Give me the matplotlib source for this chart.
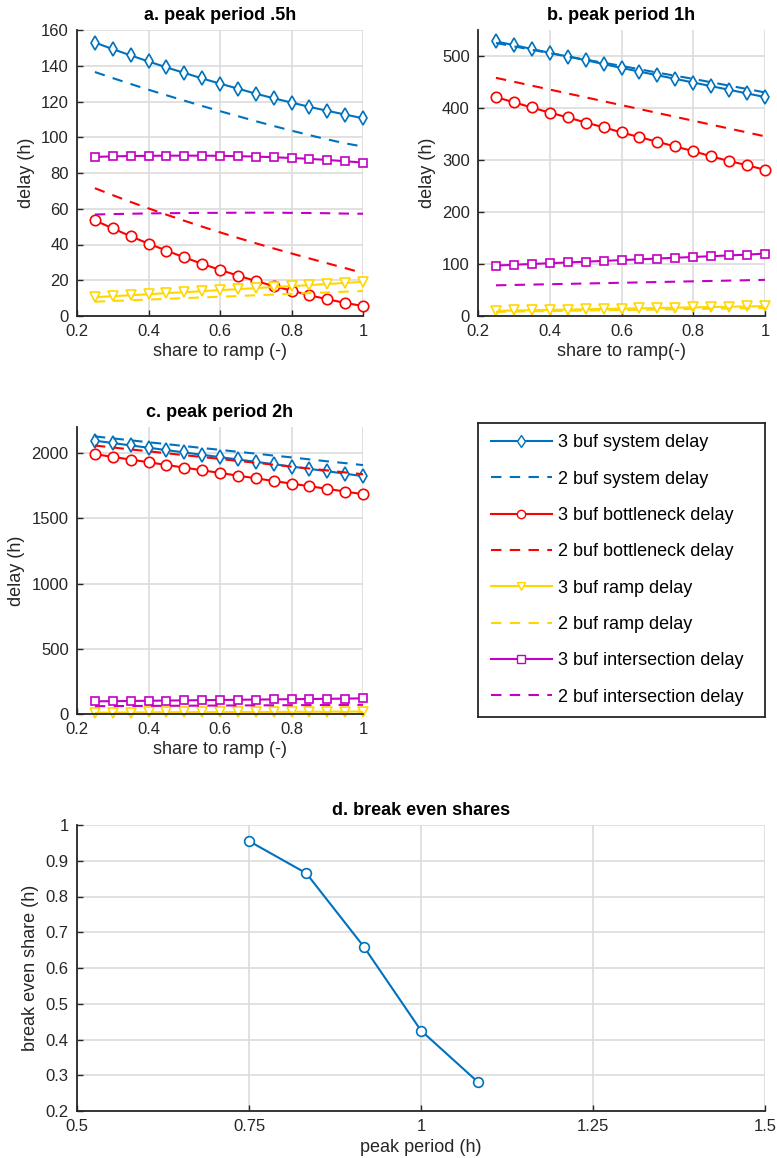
import numpy as np
import matplotlib
matplotlib.use("Agg")
import matplotlib.pyplot as plt
from matplotlib.lines import Line2D

plt.rcParams['font.family'] = ['Liberation Sans', 'DejaVu Sans']

# share of traffic sent to the ramp
share = [0.25, 0.30, 0.35, 0.40, 0.45, 0.50, 0.55, 0.60,
         0.65, 0.70, 0.75, 0.80, 0.85, 0.90, 0.95, 1.00]

# peak period 0.5 h
a_sys3 = [153, 149.3, 145.8, 142.4, 139.1, 136.0, 132.9, 130.0, 127.2, 124.4, 121.8, 119.4, 117.0, 114.8, 112.7, 110.6]
a_sys2 = [136.5, 133.1, 129.8, 126.6, 123.5, 120.5, 117.5, 114.6, 111.8, 109.0, 106.3, 103.7, 101.2, 98.8, 96.6, 94.8]
a_bot3 = [53.5, 49.0, 44.6, 40.5, 36.6, 32.8, 29.2, 25.8, 22.6, 19.6, 16.8, 14.2, 11.6, 9.4, 7.3, 5.6]
a_bot2 = [71.5, 67.6, 63.8, 60.2, 56.7, 53.3, 50.0, 46.8, 43.7, 40.7, 37.8, 35.0, 32.2, 29.5, 26.8, 24.0]
a_ramp3 = [10.5, 11.1, 11.6, 12.2, 12.8, 13.3, 13.9, 14.5, 15.0, 15.6, 16.2, 16.7, 17.3, 17.9, 18.5, 19.1]
a_ramp2 = [8.0, 8.4, 8.8, 9.2, 9.6, 10.0, 10.4, 10.8, 11.2, 11.6, 12.0, 12.4, 12.8, 13.2, 13.6, 14.0]
a_int3 = [89.0, 89.3, 89.5, 89.6, 89.7, 89.7, 89.7, 89.6, 89.4, 89.2, 88.8, 88.4, 87.9, 87.3, 86.6, 85.8]
a_int2 = [56.8, 57.0, 57.2, 57.4, 57.5, 57.6, 57.7, 57.7, 57.8, 57.8, 57.8, 57.7, 57.6, 57.5, 57.3, 57.2]

# peak period 1 h
b_sys3 = [528, 521, 513.5, 506, 499, 492, 484.5, 477, 470, 463, 456, 449, 442, 435, 428, 421]
b_sys2 = [525, 518.5, 512, 505.5, 499, 493, 487, 481, 474.5, 468, 462, 456, 449.5, 443, 436.5, 430]
b_bot3 = [421, 411, 401, 391, 382, 372, 363, 353, 344, 335, 326, 317, 307, 298, 290, 281]
b_bot2 = [458, 450.5, 443, 435.5, 428, 420.5, 413, 405.5, 398, 390.5, 383, 375.5, 368, 360.5, 353, 345.5]
b_ramp3 = [10, 10.6, 11.2, 11.8, 12.4, 13.0, 13.6, 14.2, 14.8, 15.4, 16.0, 16.6, 17.2, 17.8, 18.4, 19.0]
b_ramp2 = [8, 8.5, 9.0, 9.5, 10.0, 10.5, 11.0, 11.5, 12.0, 12.5, 13.0, 13.5, 14.0, 14.5, 15.0, 15.5]
b_int3 = [97, 98.5, 100, 101.5, 103, 104.5, 106, 107.5, 109, 110.5, 112, 113.5, 115, 116.5, 118, 120]
b_int2 = [59, 59.7, 60.4, 61.1, 61.8, 62.5, 63.2, 63.9, 64.6, 65.3, 66.0, 66.7, 67.4, 68.1, 68.8, 69.5]

# peak period 2 h
c_sys3 = [2095, 2077, 2059, 2041, 2023, 2005, 1987, 1969, 1951, 1933, 1915, 1897, 1879, 1861, 1842, 1823]
c_sys2 = [2128, 2113, 2098, 2083, 2069, 2054, 2039, 2025, 2010, 1996, 1981, 1967, 1952, 1937, 1923, 1908]
c_bot2 = [2058, 2043, 2028, 2014, 1999, 1984, 1970, 1955, 1940, 1926, 1911, 1896, 1882, 1867, 1852, 1838]
c_bot3 = [1992, 1971, 1950, 1930, 1909, 1889, 1868, 1848, 1827, 1807, 1786, 1766, 1746, 1726, 1705, 1685]
c_ramp3 = [10, 10.6, 11.2, 11.8, 12.4, 13.0, 13.6, 14.2, 14.8, 15.4, 16.0, 16.6, 17.2, 17.8, 18.4, 19.0]
c_ramp2 = [8, 8.5, 9.0, 9.5, 10.0, 10.5, 11.0, 11.5, 12.0, 12.5, 13.0, 13.5, 14.0, 14.5, 15.0, 15.5]
c_int3 = [97, 98.5, 100, 101.5, 103, 104.5, 106, 107.5, 109, 110.5, 112, 113.5, 115, 116.5, 118, 120]
c_int2 = [60, 60.7, 61.4, 62.1, 62.8, 63.5, 64.2, 64.9, 65.6, 66.3, 67.0, 67.7, 68.4, 69.1, 69.8, 70.5]

# break even shares
peak_period = [0.75, 0.8333, 0.9167, 1.0, 1.0833]
break_even = [0.955, 0.865, 0.66, 0.425, 0.28]

labels = ['3 buf system delay', '2 buf system delay',
          '3 buf bottleneck delay', '2 buf bottleneck delay',
          '3 buf ramp delay', '2 buf ramp delay',
          '3 buf intersection delay', '2 buf intersection delay']

BLUE = '#0072BD'
RED = '#FF0000'
YEL = '#FFD700'
MAG = '#C400C4'
INK = '#262626'
styles = [
    dict(color=BLUE, ls='-', marker='d'),
    dict(color=BLUE, ls='--', marker=None),
    dict(color=RED, ls='-', marker='o'),
    dict(color=RED, ls='--', marker=None),
    dict(color=YEL, ls='-', marker='v'),
    dict(color=YEL, ls='--', marker=None),
    dict(color=MAG, ls='-', marker='s'),
    dict(color=MAG, ls='--', marker=None),
]

W, H = 777, 1158
fig = plt.figure(figsize=(W / 100, H / 100), dpi=100)


def px_axes(l, t, r, b):
    return fig.add_axes([l / W, 1 - b / H, (r - l) / W, (b - t) / H])


def style_axes(ax):
    for s in ['top', 'right']:
        ax.spines[s].set_visible(False)
    for s in ['left', 'bottom']:
        ax.spines[s].set_linewidth(1.3)
        ax.spines[s].set_color(INK)
    ax.tick_params(direction='in', length=4, labelsize=12, colors=INK,
                   width=1, pad=6)
    ax.grid(True, color='#dcdcdc', lw=1.2)
    ax.set_axisbelow(True)


def delay_panel(ax, series, title, ylim, yticks, xlabel):
    for y, st in zip(series, styles):
        mk = st['marker']
        ax.plot(share, y, color=st['color'], ls=st['ls'], lw=1.5,
                dashes=(5, 4) if st['ls'] == '--' else (None, None),
                marker=mk, markersize=7.5 if mk != 's' else 6,
                markerfacecolor='white', markeredgecolor=st['color'],
                markeredgewidth=1.2, clip_on=False)
    ax.set_xlim(0.2, 1.0)
    ax.set_ylim(*ylim)
    ax.set_xticks([0.2, 0.4, 0.6, 0.8, 1.0])
    ax.set_xticklabels(['0.2', '0.4', '0.6', '0.8', '1'])
    ax.set_yticks(yticks)
    ax.set_title(title, fontsize=13, fontweight='bold', pad=7)
    ax.set_ylabel('delay (h)', fontsize=13, color=INK, labelpad=4.5)
    ax.set_xlabel(xlabel, fontsize=13, color=INK, labelpad=3)
    style_axes(ax)


ax_a = px_axes(77, 30, 363, 316)
delay_panel(ax_a, [a_sys3, a_sys2, a_bot3, a_bot2, a_ramp3, a_ramp2, a_int3, a_int2],
            'a. peak period .5h', (0, 160), range(0, 161, 20), 'share to ramp (-)')

ax_b = px_axes(478, 30, 765, 316)
delay_panel(ax_b, [b_sys3, b_sys2, b_bot3, b_bot2, b_ramp3, b_ramp2, b_int3, b_int2],
            'b. peak period 1h', (0, 550), range(0, 501, 100), 'share to ramp(-)')

ax_c = px_axes(77, 427, 363, 714)
delay_panel(ax_c, [c_sys3, c_sys2, c_bot3, c_bot2, c_ramp3, c_ramp2, c_int3, c_int2],
            'c. peak period 2h', (0, 2200), range(0, 2001, 500), 'share to ramp (-)')

# legend in its own box
ax_leg = px_axes(478, 423, 765, 717)
ax_leg.set_xticks([])
ax_leg.set_yticks([])
for s in ax_leg.spines.values():
    s.set_linewidth(1.3)
    s.set_color(INK)
handles = []
for st in styles:
    handles.append(Line2D([], [], color=st['color'], ls=st['ls'], lw=1.5,
                          dashes=(5, 4) if st['ls'] == '--' else (None, None),
                          marker=st['marker'], markersize=6,
                          markerfacecolor='white', markeredgecolor=st['color']))
ax_leg.legend(handles, labels, loc='center left', frameon=False, fontsize=13,
              handlelength=3.4, handletextpad=0.35, labelspacing=1.07,
              borderaxespad=0.3, bbox_to_anchor=(0.0, 0.5))

ax_d = px_axes(77, 825, 765, 1111)
ax_d.plot(peak_period, break_even, color=BLUE, lw=1.5, marker='o',
          markersize=7, markerfacecolor='white', markeredgecolor=BLUE,
          markeredgewidth=1.2)
ax_d.set_xlim(0.5, 1.5)
ax_d.set_ylim(0.2, 1.0)
ax_d.set_xticks([0.5, 0.75, 1.0, 1.25, 1.5])
ax_d.set_xticklabels(['0.5', '0.75', '1', '1.25', '1.5'])
ax_d.set_yticks(np.arange(0.2, 1.01, 0.1))
ax_d.set_yticklabels(['0.2', '0.3', '0.4', '0.5', '0.6', '0.7', '0.8', '0.9', '1'])
ax_d.set_title('d. break even shares', fontsize=13, fontweight='bold', pad=7)
ax_d.set_ylabel('break even share (h)', fontsize=13, color=INK, labelpad=4.5)
ax_d.set_xlabel('peak period (h)', fontsize=13, color=INK, labelpad=3)
style_axes(ax_d)

fig.savefig('out.png', dpi=100)
